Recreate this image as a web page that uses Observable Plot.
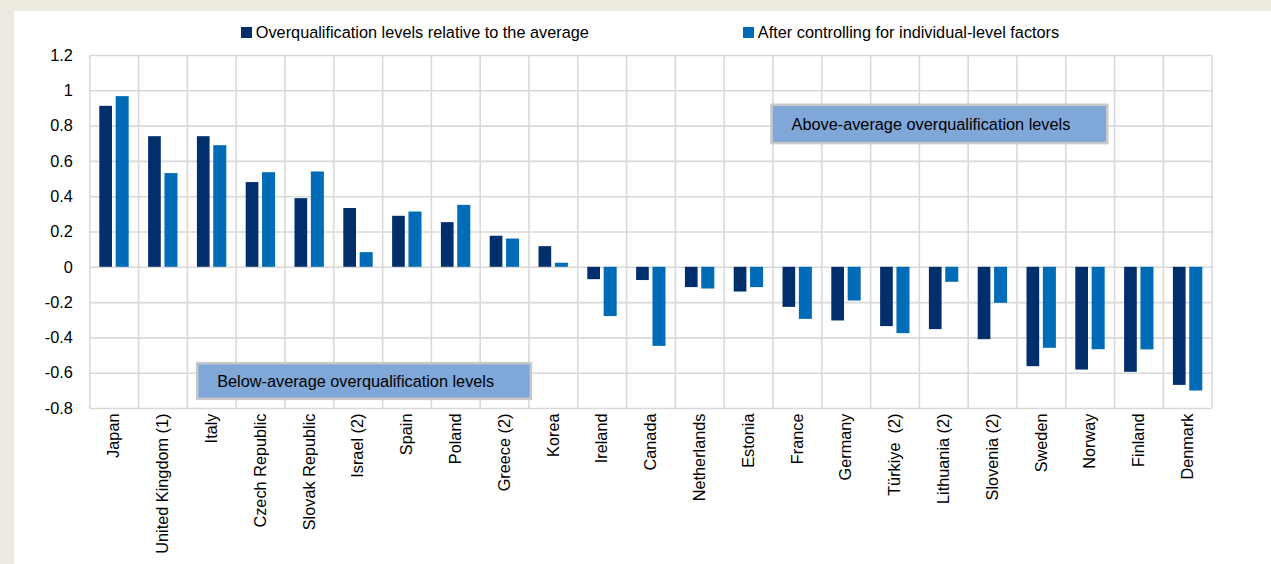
<!DOCTYPE html>
<html>
<head>
<meta charset="utf-8">
<script src="https://cdn.jsdelivr.net/npm/d3@7"></script>
<script src="https://cdn.jsdelivr.net/npm/@observablehq/plot@0.6"></script>
<style>
  html, body { margin: 0; padding: 0; }
  body { width: 1271px; height: 564px; background: #EDEAE0; position: relative; overflow: hidden;
         font-family: "Liberation Sans", Arial, sans-serif; }
  #panel { position: absolute; left: 14px; top: 11px; width: 1257px; height: 553px; background: #fff; }
  #legend { position: absolute; left: 75px; top: 11px; width: 1122px; height: 20px;
            display: flex; justify-content: center; align-items: center; gap: 154px; font-size: 16.3px; color: #000; }
  .item { display: flex; align-items: center; white-space: nowrap; }
  .sw { width: 11px; height: 11px; margin-right: 4px; }
  #chart { position: absolute; left: 0; top: 32px; }
</style>
</head>
<body>
<div id="panel">
  <div id="legend"></div>
  <div id="chart"></div>
</div>
<script>
const countries = ["Japan","United Kingdom (1)","Italy","Czech Republic","Slovak Republic","Israel (2)","Spain","Poland","Greece (2)","Korea","Ireland","Canada","Netherlands","Estonia","France","Germany","Türkiye\u00a0 (2)","Lithuania (2)","Slovenia (2)","Sweden","Norway","Finland","Denmark"];
const relative = [0.912,0.740,0.740,0.480,0.389,0.333,0.289,0.253,0.176,0.117,-0.070,-0.075,-0.115,-0.140,-0.227,-0.304,-0.336,-0.353,-0.410,-0.563,-0.582,-0.595,-0.669];
const controlled = [0.967,0.531,0.689,0.536,0.540,0.083,0.313,0.351,0.160,0.023,-0.279,-0.448,-0.123,-0.115,-0.295,-0.191,-0.376,-0.085,-0.204,-0.459,-0.467,-0.468,-0.701];
const seriesNames = ["Overqualification levels relative to the average","After controlling for individual-level factors"];
const yTicks = [-0.8,-0.6,-0.4,-0.2,0,0.2,0.4,0.6,0.8,1,1.2];
const annotationLabels = ["Above-average overqualification levels","Below-average overqualification levels"];

const colors = ["#002F6C","#006BB6"];
const boxFill = "#7FA7D8";
const boxStroke = "#C8C8C8";
const gridColor = "#D9D9D9";

// legend
const legend = document.getElementById("legend");
seriesNames.forEach((name, k) => {
  const it = document.createElement("div");
  it.className = "item";
  it.innerHTML = `<div class="sw" style="background:${colors[k]}"></div><span>${name}</span>`;
  legend.appendChild(it);
});

const rows = countries.map((c, i) => ({i, country: c, relative: relative[i], controlled: controlled[i]}));

// annotation boxes in data units (index on x, value on y)
const boxes = [
  {x1: 13.98, x2: 20.86, y1: 0.701, y2: 0.918, tx: 14.38, ty: 0.81, label: annotationLabels[0]},
  {x1: 2.21, x2: 9.05, y1: -0.748, y2: -0.546, tx: 2.61, ty: -0.647, label: annotationLabels[1]}
];

const chart = Plot.plot({
  width: 1257,
  height: 521,
  marginLeft: 75.3,
  marginRight: 59.3,
  marginTop: 12,
  marginBottom: 156,
  style: {fontSize: "16.3px", fontFamily: "'Liberation Sans', Arial, sans-serif", color: "#000", background: "transparent"},
  x: {type: "linear", domain: [0, countries.length]},
  y: {domain: [-0.8, 1.2]},
  marks: [
    Plot.ruleY(yTicks, {stroke: gridColor, strokeWidth: 1.6}),
    Plot.ruleX(d3.range(countries.length + 1), {stroke: gridColor, strokeWidth: 1.6}),
    Plot.rect(boxes, {x1: "x1", x2: "x2", y1: "y1", y2: "y2", fill: boxFill, stroke: boxStroke, strokeWidth: 2.5}),
    Plot.text(boxes, {x: "tx", y: "ty", text: "label", textAnchor: "start", fontSize: 16.3, fill: "#000"}),
    Plot.rect(rows, {x1: d => d.i + 0.205, x2: d => d.i + 0.465, y1: () => 0, y2: "relative", fill: colors[0]}),
    Plot.rect(rows, {x1: d => d.i + 0.54, x2: d => d.i + 0.807, y1: () => 0, y2: "controlled", fill: colors[1]}),
    Plot.axisY({ticks: yTicks, tickSize: 0, tickPadding: 17, tickFormat: d => String(+d.toFixed(1))}),
    Plot.axisX({ticks: d3.range(countries.length).map(i => i + 0.5), tickFormat: d => countries[Math.floor(d)],
                tickRotate: -90, tickSize: 0, tickPadding: 5})
  ]
});
document.getElementById("chart").appendChild(chart);
</script>
</body>
</html>
